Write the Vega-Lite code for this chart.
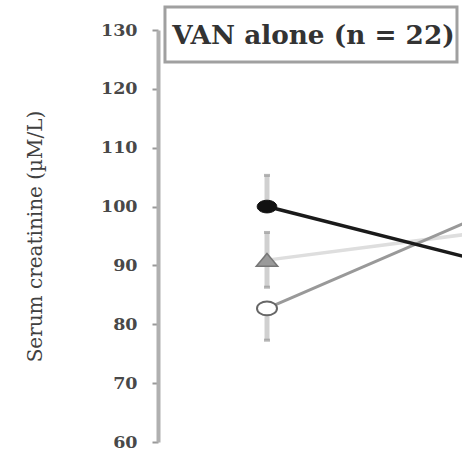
{
  "$schema": "https://vega.github.io/schema/vega-lite/v6.json",
  "width": 304,
  "height": 412,
  "autosize": {"type": "none"},
  "padding": {"left": 158, "top": 30, "right": 0, "bottom": 13},
  "background": "white",
  "config": {"view": {"stroke": null}},
  "datasets": {
    "means": [
      {"series": "filled", "time": 1, "value": 100.0},
      {"series": "filled", "time": 3, "value": 90.6},
      {"series": "triangle", "time": 1, "value": 90.9},
      {"series": "triangle", "time": 3, "value": 95.7},
      {"series": "open", "time": 1, "value": 82.7},
      {"series": "open", "time": 3, "value": 98.7}
    ],
    "errors": [
      {"series": "filled", "time": 1, "lo": 100.0, "hi": 105.3},
      {"series": "triangle", "time": 1, "lo": 86.3, "hi": 95.6},
      {"series": "open", "time": 1, "lo": 77.3, "hi": 82.7}
    ],
    "legendtext": [{"label": "VAN alone (n = 22)"}]
  },
  "layer": [
    {
      "data": {"name": "errors"},
      "mark": {"type": "rule", "color": "#d0d0d0", "strokeWidth": 5, "clip": true},
      "encoding": {
        "x": {"field": "time", "type": "quantitative", "scale": {"domain": [0, 2.789], "nice": false, "zero": false}, "axis": null},
        "y": {"field": "lo", "type": "quantitative", "scale": {"domain": [60, 130], "nice": false, "zero": false},
          "axis": {
            "values": [60, 70, 80, 90, 100, 110, 120, 130],
            "title": "Serum creatinine (µM/L)",
            "grid": false,
            "domainColor": "#b0b0b0", "domainWidth": 4,
            "tickColor": "#999999", "tickWidth": 2, "tickSize": 6,
            "labelFont": "DejaVu Serif", "labelFontWeight": "bold", "labelFontSize": 17.5, "labelColor": "#484848", "labelPadding": 15,
            "titleFont": "DejaVu Serif", "titleFontWeight": "normal", "titleFontSize": 20, "titleColor": "#404040", "titlePadding": 55
          }
        },
        "y2": {"field": "hi"}
      }
    },
    {
      "data": {"name": "errors"},
      "transform": [{"fold": ["lo", "hi"], "as": ["end", "v"]}],
      "mark": {"type": "tick", "color": "#999999", "thickness": 3, "size": 6, "orient": "horizontal"},
      "encoding": {
        "x": {"field": "time", "type": "quantitative"},
        "y": {"field": "v", "type": "quantitative"}
      }
    },
    {
      "data": {"name": "means"},
      "transform": [{"filter": "datum.series == 'triangle'"}],
      "mark": {"type": "line", "color": "#dedede", "strokeWidth": 3.5, "clip": true},
      "encoding": {
        "x": {"field": "time", "type": "quantitative"},
        "y": {"field": "value", "type": "quantitative"}
      }
    },
    {
      "data": {"name": "means"},
      "transform": [{"filter": "datum.series == 'open'"}],
      "mark": {"type": "line", "color": "#999999", "strokeWidth": 3, "clip": true},
      "encoding": {
        "x": {"field": "time", "type": "quantitative"},
        "y": {"field": "value", "type": "quantitative"}
      }
    },
    {
      "data": {"name": "means"},
      "transform": [{"filter": "datum.series == 'filled'"}],
      "mark": {"type": "line", "color": "#1a1a1a", "strokeWidth": 3.5, "clip": true},
      "encoding": {
        "x": {"field": "time", "type": "quantitative"},
        "y": {"field": "value", "type": "quantitative"}
      }
    },
    {
      "data": {"name": "means"},
      "transform": [{"filter": "datum.series == 'filled'"}],
      "mark": {"type": "point", "filled": true, "fill": "#111111", "stroke": "#111111", "strokeWidth": 1, "opacity": 1,
        "shape": "M -1.55 0 A 1.55 1 0 1 0 1.55 0 A 1.55 1 0 1 0 -1.55 0 Z", "size": 160, "clip": true},
      "encoding": {
        "x": {"field": "time", "type": "quantitative"},
        "y": {"field": "value", "type": "quantitative"}
      }
    },
    {
      "data": {"name": "means"},
      "transform": [{"filter": "datum.series == 'triangle'"}],
      "mark": {"type": "point", "filled": true, "fill": "#9a9a9a", "stroke": "#777777", "strokeWidth": 1.5, "opacity": 1,
        "shape": "M 0 -1 L 1.6 0.9 L -1.6 0.9 Z", "size": 180, "clip": true},
      "encoding": {
        "x": {"field": "time", "type": "quantitative"},
        "y": {"field": "value", "type": "quantitative"}
      }
    },
    {
      "data": {"name": "means"},
      "transform": [{"filter": "datum.series == 'open'"}],
      "mark": {"type": "point", "filled": true, "fill": "white", "stroke": "#666666", "strokeWidth": 2, "opacity": 1,
        "shape": "M -1.45 0 A 1.45 1 0 1 0 1.45 0 A 1.45 1 0 1 0 -1.45 0 Z", "size": 190, "clip": true},
      "encoding": {
        "x": {"field": "time", "type": "quantitative"},
        "y": {"field": "value", "type": "quantitative"}
      }
    },
    {
      "data": {"name": "legendtext"},
      "mark": {"type": "rect", "fill": "white", "stroke": "#a0a0a0", "strokeWidth": 3, "clip": false},
      "encoding": {
        "x": {"datum": 0.064, "type": "quantitative"},
        "x2": {"datum": 2.743},
        "y": {"datum": 133.9, "type": "quantitative"},
        "y2": {"datum": 124.56}
      }
    },
    {
      "data": {"name": "legendtext"},
      "mark": {"type": "text", "font": "DejaVu Serif", "fontWeight": "bold", "fontSize": 26.3, "color": "#333333", "align": "left", "baseline": "middle", "clip": false},
      "encoding": {
        "x": {"datum": 0.13, "type": "quantitative"},
        "y": {"datum": 128.9, "type": "quantitative"},
        "text": {"field": "label"}
      }
    }
  ]
}
